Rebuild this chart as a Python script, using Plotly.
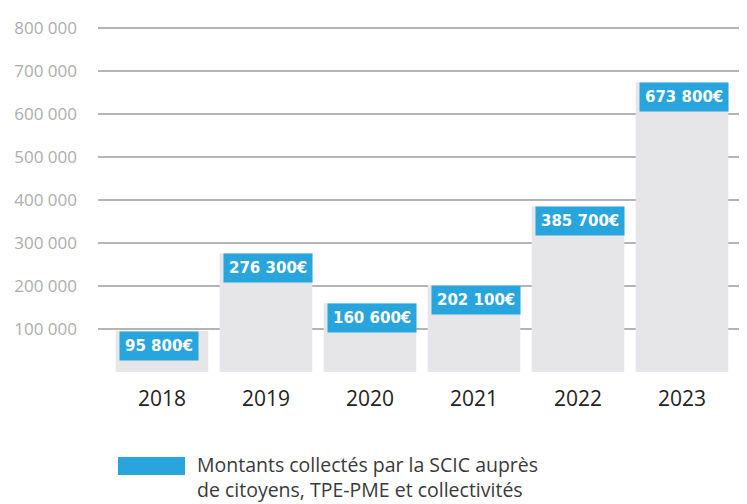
import plotly.graph_objects as go

years = ["2018", "2019", "2020", "2021", "2022", "2023"]
values = [95800, 276300, 160600, 202100, 385700, 673800]
labels = ["95 800€", "276 300€", "160 600€", "202 100€", "385 700€", "673 800€"]
ytickvals = [100000, 200000, 300000, 400000, 500000, 600000, 700000, 800000]
yticktext = ["100 000", "200 000", "300 000", "400 000", "500 000", "600 000", "700 000", "800 000"]
legend_lines = ["Montants collectés par la SCIC auprès", "de citoyens, TPE-PME et collectivités"]

OFF = 8  # page body margin
W, H = 747 - OFF, 504 - OFF
ml, mr, mt, mb = 98 - OFF, 0, 20 - OFF, 132
pw, ph = W - ml - mr, H - mt - mb
xr = [-0.615, 5.625]
bargap = 0.11
px_per_cat = pw / (xr[1] - xr[0])
half_bar = px_per_cat * (1 - bargap) / 2


def px(xpage):
    return (xpage - OFF - ml) / pw


def py(ypage):
    return 1 - (ypage - OFF - mt) / ph


fig = go.Figure()
fig.add_trace(go.Bar(
    x=list(range(len(years))), y=values,
    marker=dict(color="#e6e5e7", line=dict(width=0)),
    showlegend=False, hoverinfo="skip",
))

for i, (v, t) in enumerate(zip(values, labels)):
    fig.add_annotation(
        x=i, y=v, xref="x", yref="y", text="<b>" + t + "</b>",
        showarrow=False, xanchor="left", yanchor="top", xshift=-half_bar + 3,
        bgcolor="#29a5de", borderpad=5,
        font=dict(family="DejaVu Sans", size=15, color="white"),
    )

# legend
fig.add_shape(type="rect", xref="paper", yref="paper",
              x0=px(118), x1=px(185), y0=py(475), y1=py(457),
              fillcolor="#29a5de", line=dict(width=0))
fig.add_annotation(xref="paper", yref="paper",
                   x=px(195), y=py(449),
                   xanchor="left", yanchor="top", align="left", showarrow=False,
                   text="<br>".join(legend_lines),
                   font=dict(family="Open Sans", size=19.5, color="#3a3a3a"))

fig.update_layout(
    width=W, height=H,
    margin=dict(l=ml, r=mr, t=mt, b=mb),
    plot_bgcolor="white", paper_bgcolor="white",
    bargap=bargap,
    xaxis=dict(range=xr, tickvals=list(range(len(years))), ticktext=years,
               showgrid=False, zeroline=False, showline=False, ticks="",
               ticklabelstandoff=12,
               tickfont=dict(family="Open Sans", size=21, color="#222222")),
    yaxis=dict(range=[0, 818600], tickvals=ytickvals, ticktext=yticktext,
               showgrid=True, gridcolor="#b4b4b4", gridwidth=1.5,
               zeroline=False, showline=False, ticks="",
               ticklabelstandoff=20,
               tickfont=dict(family="Open Sans", size=17, color="#adadad")),
)

fig.write_html("out.html")
